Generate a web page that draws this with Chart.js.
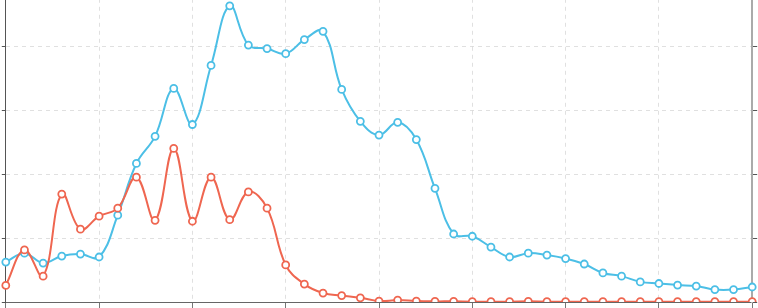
<!DOCTYPE html>
<html>
<head>
<meta charset="utf-8">
<script src="https://cdn.jsdelivr.net/npm/chart.js@4/dist/chart.umd.min.js"></script>
<style>
html,body{margin:0;padding:0;background:#fff;overflow:hidden;width:758px;height:308px;}
#wrap{position:absolute;left:0;top:-23px;width:758px;height:333px;}
</style>
</head>
<body>
<div id="wrap"><canvas id="c"></canvas></div>
<script>
const categories = Array.from({length: 41}, (_, i) => String(i + 1));
const blueValues = [12.5,15.3,12.2,14.4,15.0,14.1,27.2,43.4,51.9,66.9,55.6,74.1,92.8,80.5,79.4,77.8,82.2,84.8,66.6,56.6,52.3,56.3,50.9,35.6,21.3,20.6,17.2,14.1,15.3,14.7,13.6,11.9,9.1,8.1,6.3,5.8,5.3,5.0,3.9,3.9,4.7];
const redValues = [5.2,16.3,8.1,33.8,22.8,26.9,29.4,39.1,25.6,48.1,25.3,39.1,25.8,34.5,29.4,11.6,5.6,2.8,2.0,1.3,0.3,0.6,0.3,0.2,0.2,0.1,0.1,0.1,0.2,0.1,0.1,0.1,0.1,0.1,0.1,0.1,0.1,0.1,0.1,0.1,0.1];
const yTicks = [0,20,40,60,80,100];

const gridColor = 'rgba(0,0,0,0.12)';
new Chart(document.getElementById('c'), {
  type: 'line',
  data: {
    labels: categories,
    datasets: [
      {data: redValues, borderColor: '#ef6650', backgroundColor: '#fff', pointBackgroundColor: '#fff', pointBorderColor: '#ef6650', borderWidth: 2, pointRadius: 3.5, pointBorderWidth: 1.8, tension: 0.4, fill: false},
      {data: blueValues, borderColor: '#4cbfe6', backgroundColor: '#fff', pointBackgroundColor: '#fff', pointBorderColor: '#4cbfe6', borderWidth: 2, pointRadius: 3.5, pointBorderWidth: 1.8, tension: 0.4, fill: false}
    ]
  },
  options: {
    animation: false,
    responsive: true,
    maintainAspectRatio: false,
    layout: {padding: 0},
    plugins: {legend: {display: false}, tooltip: {enabled: false}},
    scales: {
      x: {
        offset: false,
        ticks: {display: false, autoSkip: false},
        afterBuildTicks: s => { s.ticks = s.ticks.filter((t, i) => i % 5 === 0); },
        grid: {color: gridColor, tickColor: '#777', tickLength: 8, drawTicks: true},
        border: {color: '#666', width: 1, dash: [4, 4]}
      },
      y: {
        position: 'left',
        min: 0, max: 100,
        afterBuildTicks: s => { s.ticks = yTicks.map(v => ({value: v})); },
        ticks: {display: false},
        grid: {color: gridColor, tickColor: '#555', tickLength: 4},
        border: {color: '#555', width: 1, dash: [4, 4]}
      },
      y2: {
        position: 'right',
        min: 0, max: 100,
        afterBuildTicks: s => { s.ticks = yTicks.map(v => ({value: v})); },
        ticks: {display: false},
        grid: {drawOnChartArea: false, tickColor: '#555', tickLength: 5},
        border: {color: '#aaa', width: 2}
      }
    }
  }
});
</script>
</body>
</html>
